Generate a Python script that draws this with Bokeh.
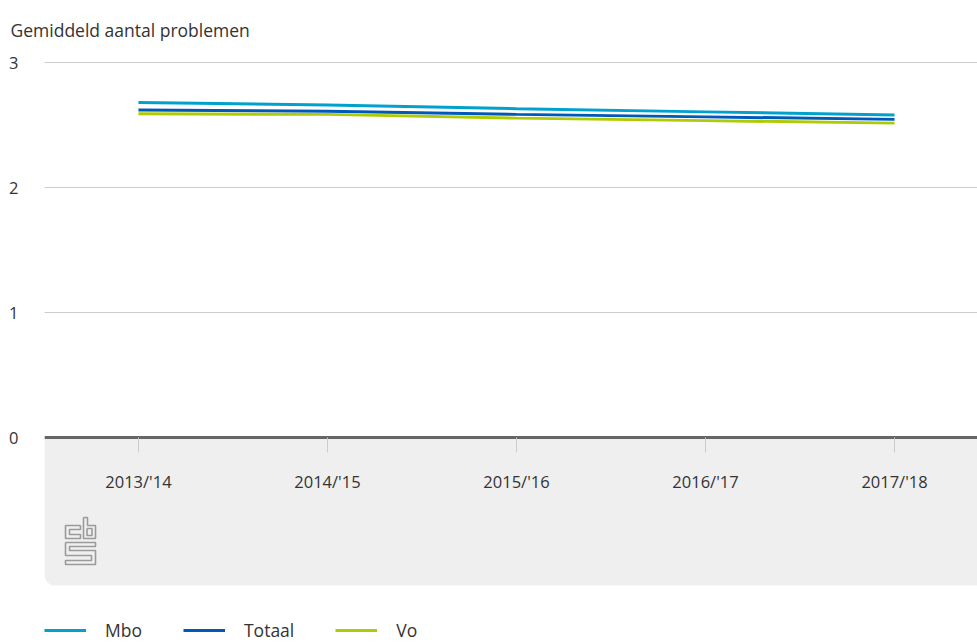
from bokeh.plotting import figure
from bokeh.models import Range1d, FixedTicker, BoxAnnotation, Legend, LegendItem
from bokeh.embed import file_html
from bokeh.resources import INLINE

years = ["2013/'14", "2014/'15", "2015/'16", "2016/'17", "2017/'18"]
mbo = [2.68, 2.66, 2.63, 2.605, 2.58]
totaal = [2.62, 2.61, 2.585, 2.565, 2.545]
vo = [2.59, 2.585, 2.555, 2.535, 2.515]
y_ticks = [0, 1, 2, 3]
y_title = "Gemiddeld aantal problemen"

FONT = "Open Sans"
TXT = "#333333"

# frame geometry (pixels) and ranges
W, H = 977, 643
LEFT, TOP = 44, 60
X0, X1 = -0.497, 4.439
Y0, Y1 = -1.648, 3.016
PANEL_BOTTOM = -1.184

x = list(range(len(years)))

p = figure(width=W, height=H, output_backend="svg", toolbar_location=None,
           x_range=Range1d(X0, X1), y_range=Range1d(Y0, Y1),
           min_border_left=LEFT, min_border_right=0, min_border_top=TOP, min_border_bottom=0,
           outline_line_color=None)

fw = W - LEFT
fh = H - TOP

p.title.text = y_title
p.title.align = "left"
p.title.vertical_align = "top"
p.title.offset = -34
p.title.text_font = FONT
p.title.text_font_style = "normal"
p.title.text_font_size = "17.5px"
p.title.text_color = TXT
p.title.standoff = 34

bg = BoxAnnotation(top=0, bottom=PANEL_BOTTOM, fill_color="#efefef", fill_alpha=1,
                   line_alpha=0, border_radius=(0, 0, 0, 10), level="underlay")
p.add_layout(bg)

# CBS logo outline (pixel offsets within the page), drawn as decoration
logo_paths = [
    [(80, 525), (65, 525), (65, 538), (80, 538), (80, 534), (69, 534), (69, 529), (80, 529), (80, 525)],
    [(83, 517), (87, 517), (87, 525), (95, 525), (95, 538), (83, 538), (83, 517)],
    [(86.5, 528), (91.5, 528), (91.5, 535), (86.5, 535), (86.5, 528)],
    [(65, 542), (95, 542), (95, 546), (69, 546), (69, 550), (95, 550), (95, 564),
     (65, 564), (65, 560), (91, 560), (91, 555), (65, 555), (65, 542)],
]
lx = [[X0 + (px - LEFT) / fw * (X1 - X0) for px, py in path] for path in logo_paths]
ly = [[Y1 - (py - TOP) / fh * (Y1 - Y0) for px, py in path] for path in logo_paths]
p.multi_line(lx, ly, line_color="#9a9a9a", line_width=1.6)

r_mbo = p.line(x, mbo, line_color="#00a1cd", line_width=3)
r_tot = p.line(x, totaal, line_color="#0058b8", line_width=3)
r_vo = p.line(x, vo, line_color="#afcb05", line_width=3)

xa = p.xaxis[0]
xa.fixed_location = 0
xa.ticker = FixedTicker(ticks=x)
xa.major_label_overrides = {i: y for i, y in enumerate(years)}
xa.axis_line_color = "#666666"
xa.axis_line_width = 3
xa.major_tick_in = 0
xa.major_tick_out = 15
xa.major_tick_line_color = "#cccccc"
xa.minor_tick_line_color = None
xa.major_label_standoff = 17
xa.major_label_text_font = FONT
xa.major_label_text_font_size = "16.5px"
xa.major_label_text_color = TXT

ya = p.yaxis[0]
ya.ticker = FixedTicker(ticks=y_ticks)
ya.axis_line_color = None
ya.major_tick_line_color = None
ya.major_tick_out = 0
ya.major_tick_in = 0
ya.minor_tick_line_color = None
ya.major_label_standoff = 26
ya.major_label_text_font = FONT
ya.major_label_text_font_size = "16.5px"
ya.major_label_text_color = TXT

p.xgrid.grid_line_color = None
p.ygrid.ticker = FixedTicker(ticks=y_ticks)
p.ygrid.grid_line_color = "#cccccc"
p.ygrid.grid_line_width = 1

legend = Legend(items=[LegendItem(label="Mbo", renderers=[r_mbo]),
                       LegendItem(label="Totaal", renderers=[r_tot]),
                       LegendItem(label="Vo", renderers=[r_vo])],
                location=(0, 1), orientation="horizontal", glyph_width=42,
                label_standoff=19, spacing=41, padding=0, margin=0,
                background_fill_alpha=0, border_line_alpha=0,
                label_text_font=FONT, label_text_font_size="17.5px",
                label_text_color=TXT)
p.add_layout(legend, "center")

open("out.html", "w").write(file_html(p, INLINE))
